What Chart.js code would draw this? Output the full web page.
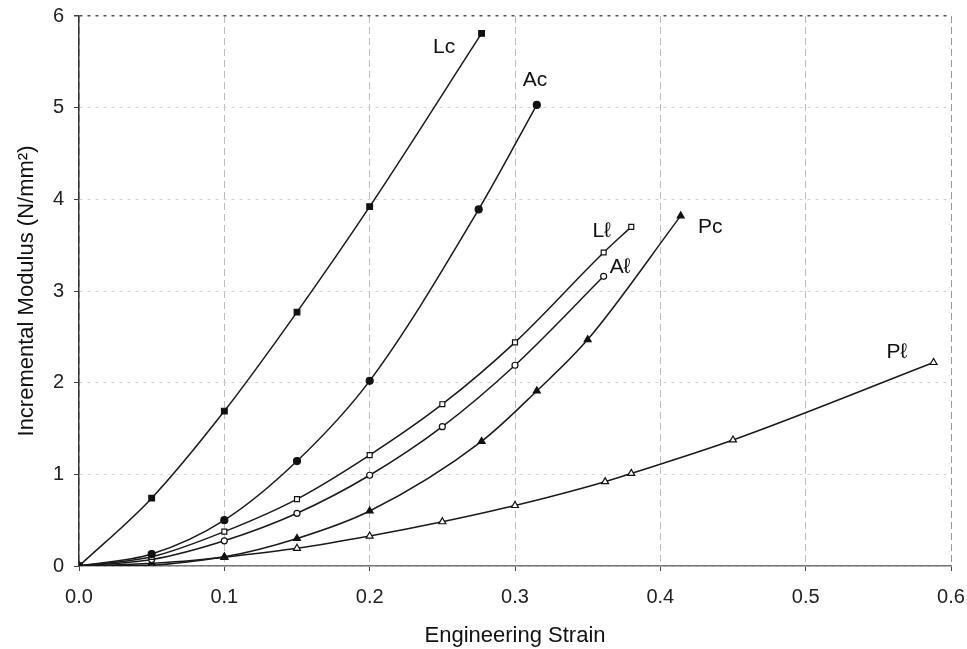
<!DOCTYPE html>
<html>
<head>
<meta charset="utf-8">
<script src="https://cdn.jsdelivr.net/npm/chart.js@4"></script>
<style>
html,body{margin:0;padding:0;background:#fff;}
#wrap{width:967px;height:649px;position:relative;}
</style>
</head>
<body>
<div id="wrap"><canvas id="c" width="967" height="649"></canvas></div>
<script>
// ---- data ----
const lcX = [0, 0.05, 0.1, 0.15, 0.2, 0.277];
const lcY = [0, 0.74, 1.69, 2.77, 3.92, 5.81];
const acX = [0, 0.05, 0.1, 0.15, 0.2, 0.275, 0.315];
const acY = [0, 0.13, 0.50, 1.145, 2.02, 3.89, 5.03];
const llX = [0, 0.05, 0.1, 0.15, 0.2, 0.25, 0.3, 0.361, 0.38];
const llY = [0, 0.10, 0.375, 0.73, 1.21, 1.765, 2.44, 3.42, 3.70];
const alX = [0, 0.05, 0.1, 0.15, 0.2, 0.25, 0.3, 0.361];
const alY = [0, 0.07, 0.275, 0.575, 0.99, 1.52, 2.19, 3.16];
const pcX = [0, 0.05, 0.1, 0.15, 0.2, 0.277, 0.315, 0.35, 0.414];
const pcY = [0, 0.03, 0.10, 0.30, 0.60, 1.36, 1.91, 2.47, 3.82];
const plX = [0, 0.05, 0.1, 0.15, 0.2, 0.25, 0.3, 0.362, 0.38, 0.45, 0.588];
const plY = [0, 0.01, 0.095, 0.193, 0.327, 0.483, 0.66, 0.92, 1.01, 1.375, 2.22];

const xTicks = [0, 0.1, 0.2, 0.3, 0.4, 0.5, 0.6];
const yTicks = [0, 1, 2, 3, 4, 5, 6];

// curve labels (text, anchor in data units)
const curveLabels = ['Lc', 'Ac', 'L\u2113', 'A\u2113', 'Pc', 'P\u2113'];
const curveLabelX = [0.2512, 0.3138, 0.3597, 0.3723, 0.4343, 0.5627];
const curveLabelY = [5.66, 5.30, 3.65, 3.265, 3.695, 2.327];

const zip = (xs, ys) => xs.map((x, i) => ({x: x, y: ys[i]}));

function ds(label, xs, ys, style, radius, filled) {
  return {
    label: label,
    data: zip(xs, ys),
    borderColor: '#1a1a1a',
    borderWidth: 1.5,
    pointStyle: style,
    pointRadius: radius,
    pointBorderWidth: 1.2,
    pointBorderColor: '#111',
    pointBackgroundColor: filled ? '#111' : '#fff',
    cubicInterpolationMode: 'monotone',
    fill: false
  };
}

const labelPlugin = {
  id: 'curveLabels',
  afterDatasetsDraw(chart) {
    const ctx = chart.ctx, xs = chart.scales.x, ys = chart.scales.y;
    ctx.save();
    ctx.fillStyle = '#111';
    ctx.font = '21px "Liberation Sans", Arial, sans-serif';
    ctx.textAlign = 'center';
    ctx.textBaseline = 'middle';
    curveLabels.forEach((t, i) => {
      ctx.fillText(t, xs.getPixelForValue(curveLabelX[i]), ys.getPixelForValue(curveLabelY[i]));
    });
    ctx.restore();
  }
};

const FONT = '"Liberation Sans", Arial, sans-serif';
const noPad = s => { s.paddingLeft = 0; s.paddingRight = 0; s.paddingTop = 0; s.paddingBottom = 0; };

new Chart(document.getElementById('c'), {
  type: 'line',
  data: {
    datasets: [
      ds('Lc', lcX, lcY, 'rect', 4, true),
      ds('Ac', acX, acY, 'circle', 3.5, true),
      ds('L\u2113', llX, llY, 'rect', 3.5, false),
      ds('A\u2113', alX, alY, 'circle', 3, false),
      ds('Pc', pcX, pcY, 'triangle', 4, true),
      ds('P\u2113', plX, plY, 'triangle', 4, false)
    ]
  },
  options: {
    responsive: false,
    animation: false,
    layout: {padding: {left: 0, right: 16, top: 16, bottom: 0}},
    plugins: {legend: {display: false}, tooltip: {enabled: false}},
    scales: {
      x: {
        type: 'linear', min: 0, max: 0.6,
        afterBuildTicks: s => { s.ticks = xTicks.map(v => ({value: v})); },
        afterFit: s => { s.height = 83; noPad(s); },
        ticks: {
          color: '#222', padding: 14,
          font: {family: FONT, size: 20},
          callback: v => v.toFixed(1)
        },
        grid: {
          color: ctx => ctx.tick && ctx.tick.value >= 0.6 ? '#999' : '#bdbdbd',
          lineWidth: 1,
          tickLength: 5,
          tickColor: '#444'
        },
        border: {display: true, color: '#777', width: 1.5, dash: [7, 4]},
        title: {
          display: true, text: 'Engineering Strain', color: '#111',
          font: {family: FONT, size: 22},
          padding: {top: 0, bottom: 0}
        }
      },
      y: {
        type: 'linear', min: 0, max: 6,
        afterBuildTicks: s => { s.ticks = yTicks.map(v => ({value: v})); },
        afterFit: s => { s.width = 79; noPad(s); },
        ticks: {
          color: '#222', padding: 10,
          font: {family: FONT, size: 20}
        },
        grid: {
          color: ctx => ctx.tick && ctx.tick.value >= 6 ? '#555' : '#d0d0d0',
          lineWidth: ctx => ctx.tick && ctx.tick.value >= 6 ? 1.5 : 1,
          tickLength: 5,
          tickColor: '#444'
        },
        border: {display: true, color: '#333', width: 1.5, dash: [3, 5]},
        title: {
          display: true, text: 'Incremental Modulus (N/mm\u00B2)', color: '#111',
          font: {family: FONT, size: 22},
          padding: {top: 14, bottom: 4}
        }
      }
    }
  },
  plugins: [labelPlugin]
});
</script>
</body>
</html>
